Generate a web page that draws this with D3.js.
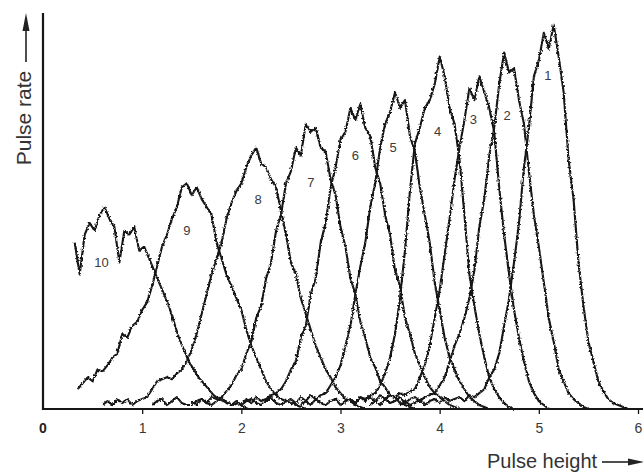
<!DOCTYPE html>
<html>
<head>
<meta charset="utf-8">
<script src="https://cdn.jsdelivr.net/npm/d3@7/dist/d3.min.js"></script>
<style>
  body { margin: 0; background: #fff; }
  text { font-family: "Liberation Sans", Arial, sans-serif; }
</style>
</head>
<body>
<svg id="chart" width="643" height="474"></svg>
<script>
// pulse height spectra, sampled every 0.05 on the pulse-height axis
var step = 0.05;
var curveNames = ["1", "2", "3", "4", "5", "6", "7", "8", "9", "10"];
var curveStart = [3.60, 3.30, 2.60, 3.00, 2.00, 1.50, 1.10, 0.60, 0.35, 0.32];

var curve1 = [1,2,1,1.5,2.5,1,2,2.5,1.5,3, 2,2.5,3,2,3.5,3,4,5,8,10,
  14,21,28,37,47,61,71,84,88,95, 91,97,89,80,63,53,37,26,17,12, 7,4.5,2.5,1.5,1,0.5,0];
var curve2 = [1,2,1,2.5,1.5,2,3,1.5,2.5,3, 2,3,3.5,4,6,8,12,16,19,23,
  28,35,46,53,64,71,82,90,85,86, 78,72,60,49,41,32,23,17,10,7, 4,2.5,1.5,0.5,0];
var curve3 = [1,2,1,2.5,1.5,1,2,2.5,
  1,2,2.5,1.5,3,2,3,2,3.5,2.5, 3.5,3,4,3.5,4.5,5,8,11,16,23,
  30,39,48,58,66,73,81,78,84,80, 76,70,56,44,34,25,18,12,7,4, 2,1,0];
var curve4 = [1,2,2.5,1.5,3,2.5,3.5,4,6,9, 13,19,28,40,55,67,71,76,78,82,
  89,84,76,72,63,49,34,26,19,13, 8,5,3,1.5,0.5,0];
var curve5 = [1,2,2.5,1.5,1,2,3,1.5,
  1,2,2.5,1.5,3,2,3.5,2.5,3.5,4, 6,8,11,16,21,29,36,42,51,57,
  66,72,75,80,76,78,69,65,56,49, 42,32,25,18,13,10,7,5,3,2, 1,0.5,0];
var curve6 = [2,1,2.5,1.5,1,2,3,1.5,
  1,2,1,2.5,1.5,3,2,2.5,3.5,4, 5,7,10,12,18,21,29,33,42,47,
  56,61,68,70,76,73,77,71,69,61, 57,49,44,35,31,23,19,14,11,8, 5.5,4,3,2,1,0.5,0];
var curve7 = [1,2,2.5,1,2,3,1.5,1,
  1,2,2.5,1.5,3,2.5,3,4.5,6,8.5, 10,14,17,23,26,33,37,45,49,57,
  60,66,64,72,70,71,66,65,58,54, 46,41,33,29,22,18,13,10.5,7,5.5, 3.5,3,1.5,1,0.5,0];
var curve8 = [1,2,1,2.5,1.5,2.5,
  1,2,2.5,3,5,7,7.5,8,7.5,9, 10,12,15,19,24,29,34,38,42,48,
  52,55,57,61,64,66,62,61,58,56, 50,44,37,34,28,24,20,16,13,10, 8,5.5,4,2.5,2,1,0.5,0];
var curve9 = [5,6.5,8,7,10,9.5,11,13,14,19, 18,21,22,25,27,31,36,41,44,48,
  51,56,57,54,56,53,51,49,42,38, 34,31,28,25,20,16,13,10,7,5, 3.5,2.5,2,1.5,1,0.5,0];
var curve10 = [42,34,44,47,45,49,51,48,46,37, 45,44,46,40,41,38,35,32,29,26,
  22,18,15,12,10,8,6.5,5,3.5,2.5, 2,1.5,1,1.5,0.5,0];

var curves = [curve1, curve2, curve3, curve4, curve5, curve6, curve7, curve8, curve9, curve10];

// where each curve number is written (pulse height, pulse rate)
var labelX = [5.09, 4.68, 4.34, 3.98, 3.53, 3.15, 2.70, 2.17, 1.45, 0.59];
var labelY = [84.3, 74.2, 73, 70, 66, 64, 57.3, 52.8, 45.2, 37.1];

var xTicks = [1, 2, 3, 4, 5, 6];

var svg = d3.select("#chart");
var ink = "#161616";

var x = d3.scaleLinear().domain([0, 6]).range([43, 638]);
var y = d3.scaleLinear().domain([0, 100]).range([409, 13]);

// a little displacement so the traces look like the scanned print
var defs = svg.append("defs");
var rough = defs.append("filter")
    .attr("id", "rough")
    .attr("filterUnits", "userSpaceOnUse")
    .attr("x", 0).attr("y", 0).attr("width", 643).attr("height", 474);
rough.append("feTurbulence")
    .attr("type", "fractalNoise")
    .attr("baseFrequency", 0.55)
    .attr("numOctaves", 1)
    .attr("seed", 4)
    .attr("result", "noise");
rough.append("feDisplacementMap")
    .attr("in", "SourceGraphic")
    .attr("in2", "noise")
    .attr("scale", 3.5)
    .attr("xChannelSelector", "R")
    .attr("yChannelSelector", "G");

var line = d3.line()
    .x(function(d) { return x(d[0]); })
    .y(function(d) { return y(d[1]); });

var traces = svg.append("g").attr("filter", "url(#rough)");

curves.forEach(function(vals, k) {
  var pts = vals.map(function(v, i) { return [curveStart[k] + i * step, v]; });
  traces.append("path")
      .datum(pts)
      .attr("fill", "none")
      .attr("stroke", ink)
      .attr("stroke-width", 2.1)
      .attr("stroke-linejoin", "round")
      .attr("d", line);
});

// curve numbers
svg.append("g").selectAll("text")
    .data(curveNames)
  .enter().append("text")
    .attr("x", function(d, i) { return x(labelX[i]); })
    .attr("y", function(d, i) { return y(labelY[i]); })
    .attr("dy", "0.35em")
    .attr("text-anchor", "middle")
    .attr("font-size", 13)
    .attr("fill", "#3a3a3a")
    .text(function(d) { return d; });

// axes
var xAxis = svg.append("g")
    .attr("transform", "translate(0,409)")
    .call(d3.axisBottom(x).tickValues(xTicks).tickSize(5).tickFormat(d3.format("d")));
xAxis.select(".domain").remove();
xAxis.selectAll(".tick line").attr("stroke", ink).attr("stroke-width", 1.3);
xAxis.selectAll(".tick text")
    .attr("y", 14)
    .attr("font-size", 14)
    .attr("font-family", "Liberation Sans, Arial, sans-serif")
    .attr("fill", "#3a3a3a");

svg.append("text")
    .attr("x", x(0))
    .attr("y", 433)
    .attr("text-anchor", "middle")
    .attr("font-size", 14)
    .attr("font-weight", "bold")
    .attr("fill", "#222")
    .text("0");

svg.append("line")
    .attr("x1", x(0)).attr("x2", 643)
    .attr("y1", y(0)).attr("y2", y(0))
    .attr("stroke", ink).attr("stroke-width", 2.2);
svg.append("line")
    .attr("x1", x(0)).attr("x2", x(0))
    .attr("y1", y(0) + 1).attr("y2", y(100))
    .attr("stroke", ink).attr("stroke-width", 2.2);

// axis titles with arrows
svg.append("text")
    .attr("transform", "translate(31,118) rotate(-90)")
    .attr("text-anchor", "middle")
    .attr("font-size", 21)
    .attr("fill", "#333")
    .text("Pulse rate");
svg.append("line")
    .attr("x1", 26).attr("x2", 26).attr("y1", 62).attr("y2", 26)
    .attr("stroke", "#222").attr("stroke-width", 1.6);
svg.append("path")
    .attr("d", "M26,13 L22.5,31 L29.5,31 Z")
    .attr("fill", "#222");

svg.append("text")
    .attr("x", 487)
    .attr("y", 468)
    .attr("font-size", 20)
    .attr("fill", "#333")
    .text("Pulse height");
svg.append("line")
    .attr("x1", 602).attr("x2", 630).attr("y1", 462).attr("y2", 462)
    .attr("stroke", "#222").attr("stroke-width", 1.6);
svg.append("path")
    .attr("d", "M644,462 L628,458.5 L628,465.5 Z")
    .attr("fill", "#222");
</script>
</body>
</html>
